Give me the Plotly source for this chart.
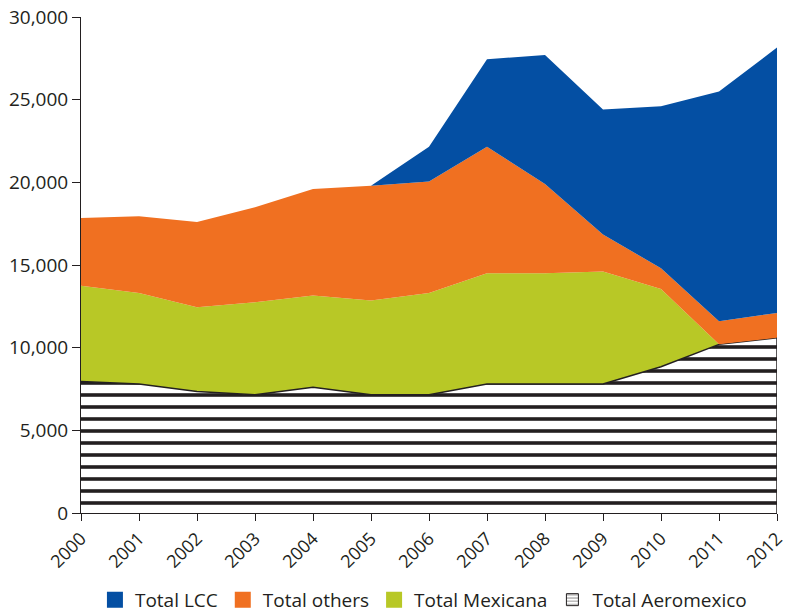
import plotly.graph_objects as go

years = [2000, 2001, 2002, 2003, 2004, 2005, 2006, 2007, 2008, 2009, 2010, 2011, 2012]
aeromexico = [7950, 7800, 7350, 7150, 7600, 7150, 7150, 7800, 7800, 7800, 8850, 10200, 10600]
mexicana = [5800, 5500, 5100, 5600, 5550, 5700, 6150, 6700, 6700, 6800, 4700, 0, 0]
others = [4100, 4650, 5150, 5750, 6450, 6950, 6750, 7650, 5400, 2250, 1250, 1400, 1500]
lcc = [0, 0, 0, 0, 0, 0, 2100, 5300, 7800, 7550, 9800, 13900, 16050]

y_ticks = [0, 5000, 10000, 15000, 20000, 25000, 30000]

INK = "#231f20"
BLUE = "#044fa3"
ORANGE = "#f07021"
GREEN = "#b8c826"
hatch = dict(shape="-", size=12, solidity=0.3, fgcolor=INK, fgopacity=1, bgcolor="white")

fig = go.Figure()

# stacked areas (legend handled by the dummy bars below)
fig.add_trace(go.Scatter(
    x=years, y=aeromexico, name="Total Aeromexico", showlegend=False,
    stackgroup="one", mode="lines",
    line=dict(color=INK, width=1.5), fillcolor="white", fillpattern=hatch,
))
fig.add_trace(go.Scatter(
    x=years, y=mexicana, name="Total Mexicana", showlegend=False,
    stackgroup="one", mode="lines", line=dict(width=0, color=GREEN), fillcolor=GREEN,
))
fig.add_trace(go.Scatter(
    x=years, y=others, name="Total others", showlegend=False,
    stackgroup="one", mode="lines", line=dict(width=0, color=ORANGE), fillcolor=ORANGE,
))
fig.add_trace(go.Scatter(
    x=years, y=lcc, name="Total LCC", showlegend=False,
    stackgroup="one", mode="lines", line=dict(width=0, color=BLUE), fillcolor=BLUE,
))

# legend entries with square swatches
for name, color in [("Total LCC", BLUE), ("Total others", ORANGE), ("Total Mexicana", GREEN)]:
    fig.add_trace(go.Bar(x=[None], y=[None], name=name,
                         marker=dict(color=color, line=dict(color=color, width=4))))
fig.add_trace(go.Bar(x=[None], y=[None], name="Total Aeromexico",
                     marker=dict(color="white", line=dict(color=INK, width=1),
                                 pattern=dict(shape="-", size=4, solidity=0.3,
                                              fgcolor=INK, bgcolor="white"))))

# right edge outline of the hatched area
fig.add_shape(type="line", x0=years[-1], x1=years[-1], y0=0, y1=aeromexico[-1],
              line=dict(color=INK, width=1.5))

fig.update_layout(
    width=789, height=612,
    margin=dict(l=81, r=12, t=17, b=99, autoexpand=False),
    paper_bgcolor="white", plot_bgcolor="white",
    font=dict(family="Open Sans", size=18, color=INK),
    showlegend=True,
    legend=dict(orientation="h", x=0.492, xanchor="center", y=-0.175, yanchor="middle",
                traceorder="normal", font=dict(size=19)),
    xaxis=dict(
        range=[years[0], years[-1]], tickvals=years, tickangle=-45, automargin=False,
        ticklabeloverflow="allow",
        showgrid=False, zeroline=False, showline=True, linecolor=INK, linewidth=1,
        ticks="outside", ticklen=7, tickcolor=INK, tickfont=dict(size=18),
    ),
    yaxis=dict(
        range=[0, 30000], tickvals=y_ticks, tickformat=",", automargin=False,
        ticklabeloverflow="allow",
        showgrid=False, zeroline=False, showline=True, linecolor=INK, linewidth=1,
        ticks="outside", ticklen=8, tickcolor=INK, tickfont=dict(size=19),
    ),
)

# drop the default 8px page margin so the figure fills the window
fig.write_html("out.html", config={"displayModeBar": False},
               post_script="document.body.style.margin = '0';")
